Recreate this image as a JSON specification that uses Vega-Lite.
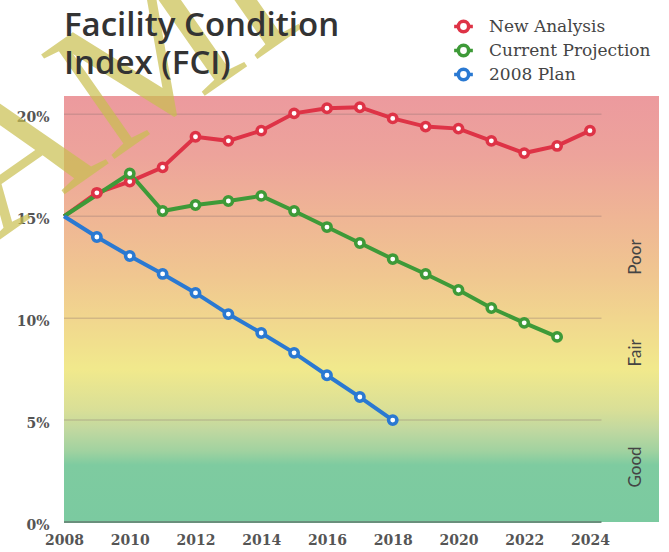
{
  "$schema": "https://vega.github.io/schema/vega-lite/v6.json",
  "width": 595,
  "height": 426,
  "autosize": "none",
  "padding": {"left": 64, "top": 96, "right": 10, "bottom": 30},
  "background": "white",
  "config": {"view": {"stroke": null}},
  "title": {
    "text": ["Facility Condition", "Index (FCI)"],
    "orient": "bottom",
    "anchor": "start",
    "frame": "group",
    "baseline": "top",
    "font": "Open Sans",
    "fontWeight": 600,
    "fontSize": 33,
    "lineHeight": 38,
    "color": "#333333",
    "offset": 0,
    "dy": -537,
    "zindex": 1
  },
  "datasets": {
    "bg": [{"x0": 2008, "x1": 2026.1, "y0": 0, "y1": 20.9}],
    "grid": [{"v": 5}, {"v": 10}, {"v": 15}, {"v": 20}],
    "zones": [
      {"zone": "Poor", "xp": 2025.4, "yp": 13.0},
      {"zone": "Fair", "xp": 2025.4, "yp": 8.3},
      {"zone": "Good", "xp": 2025.4, "yp": 2.7}
    ],
    "mark": [{"word": "SAMPLE", "xp": 2003.181, "yp": 10.63}],
    "series": [
      {"plan": "New Analysis", "year": 2008, "fci": 15.0},
      {"plan": "New Analysis", "year": 2009, "fci": 16.15},
      {"plan": "New Analysis", "year": 2010, "fci": 16.7},
      {"plan": "New Analysis", "year": 2011, "fci": 17.4},
      {"plan": "New Analysis", "year": 2012, "fci": 18.9},
      {"plan": "New Analysis", "year": 2013, "fci": 18.7},
      {"plan": "New Analysis", "year": 2014, "fci": 19.2},
      {"plan": "New Analysis", "year": 2015, "fci": 20.05},
      {"plan": "New Analysis", "year": 2016, "fci": 20.3},
      {"plan": "New Analysis", "year": 2017, "fci": 20.35},
      {"plan": "New Analysis", "year": 2018, "fci": 19.8},
      {"plan": "New Analysis", "year": 2019, "fci": 19.4},
      {"plan": "New Analysis", "year": 2020, "fci": 19.3},
      {"plan": "New Analysis", "year": 2021, "fci": 18.7},
      {"plan": "New Analysis", "year": 2022, "fci": 18.1},
      {"plan": "New Analysis", "year": 2023, "fci": 18.45},
      {"plan": "New Analysis", "year": 2024, "fci": 19.2},
      {"plan": "Current Projection", "year": 2008, "fci": 15.0},
      {"plan": "Current Projection", "year": 2010, "fci": 17.1},
      {"plan": "Current Projection", "year": 2011, "fci": 15.26},
      {"plan": "Current Projection", "year": 2012, "fci": 15.55},
      {"plan": "Current Projection", "year": 2013, "fci": 15.75},
      {"plan": "Current Projection", "year": 2014, "fci": 16.0},
      {"plan": "Current Projection", "year": 2015, "fci": 15.26},
      {"plan": "Current Projection", "year": 2016, "fci": 14.47},
      {"plan": "Current Projection", "year": 2017, "fci": 13.69},
      {"plan": "Current Projection", "year": 2018, "fci": 12.9},
      {"plan": "Current Projection", "year": 2019, "fci": 12.17},
      {"plan": "Current Projection", "year": 2020, "fci": 11.38},
      {"plan": "Current Projection", "year": 2021, "fci": 10.5},
      {"plan": "Current Projection", "year": 2022, "fci": 9.77},
      {"plan": "Current Projection", "year": 2023, "fci": 9.08},
      {"plan": "2008 Plan", "year": 2008, "fci": 15.0},
      {"plan": "2008 Plan", "year": 2009, "fci": 13.98},
      {"plan": "2008 Plan", "year": 2010, "fci": 13.05},
      {"plan": "2008 Plan", "year": 2011, "fci": 12.17},
      {"plan": "2008 Plan", "year": 2012, "fci": 11.24},
      {"plan": "2008 Plan", "year": 2013, "fci": 10.2},
      {"plan": "2008 Plan", "year": 2014, "fci": 9.27},
      {"plan": "2008 Plan", "year": 2015, "fci": 8.3},
      {"plan": "2008 Plan", "year": 2016, "fci": 7.2},
      {"plan": "2008 Plan", "year": 2017, "fci": 6.13},
      {"plan": "2008 Plan", "year": 2018, "fci": 5.0}
    ]
  },
  "layer": [
    {
      "data": {"name": "bg"},
      "mark": {
        "type": "rect",
        "fill": {
          "gradient": "linear",
          "x1": 0, "y1": 0, "x2": 0, "y2": 1,
          "stops": [
            {"offset": 0, "color": "#ec9a9e"},
            {"offset": 0.139, "color": "#eda39b"},
            {"offset": 0.282, "color": "#efb595"},
            {"offset": 0.426, "color": "#f0c790"},
            {"offset": 0.522, "color": "#f1d68e"},
            {"offset": 0.641, "color": "#f1e98c"},
            {"offset": 0.737, "color": "#d9df97"},
            {"offset": 0.785, "color": "#c0d8a0"},
            {"offset": 0.833, "color": "#a1d2a0"},
            {"offset": 0.866, "color": "#7ecba0"},
            {"offset": 1, "color": "#7bcaa0"}
          ]
        }
      },
      "encoding": {
        "x": {
          "field": "x0", "type": "quantitative",
          "scale": {"domain": [2008, 2026.1], "nice": false, "zero": false},
          "axis": {
            "values": [2008, 2010, 2012, 2014, 2016, 2018, 2020, 2022, 2024],
            "format": "d",
            "title": null,
            "grid": false,
            "ticks": false,
            "domain": false,
            "labelFlush": false,
            "labelFont": "DejaVu Serif",
            "labelFontSize": 14,
            "labelFontWeight": "bold",
            "labelColor": "#555555",
            "labelPadding": 11
          }
        },
        "x2": {"field": "x1"},
        "y": {
          "field": "y0", "type": "quantitative",
          "scale": {"domain": [0, 20.9], "nice": false, "zero": false},
          "axis": {
            "values": [0, 5, 10, 15, 20],
            "labelExpr": "datum.value + '%'",
            "title": null,
            "grid": false,
            "ticks": false,
            "domain": false,
            "labelFlush": false,
            "labelFont": "DejaVu Serif",
            "labelFontSize": 14,
            "labelFontWeight": "bold",
            "labelColor": "#555555",
            "labelPadding": 15,
            "labelOffset": 3
          }
        },
        "y2": {"field": "y1"}
      }
    },
    {
      "data": {"name": "grid"},
      "mark": {"type": "rule", "color": "#8a7070", "opacity": 0.3, "strokeWidth": 1.5},
      "encoding": {
        "y": {"field": "v", "type": "quantitative"},
        "x": {"datum": 2008},
        "x2": {"datum": 2024.35}
      }
    },
    {
      "data": {"values": [{"v": 0}]},
      "mark": {"type": "rule", "color": "#6a8f7c", "strokeWidth": 2},
      "encoding": {
        "y": {"field": "v", "type": "quantitative"},
        "x": {"datum": 2008},
        "x2": {"datum": 2024.35}
      }
    },
    {
      "data": {"name": "zones"},
      "mark": {"type": "text", "angle": 270, "font": "Lato", "fontSize": 17, "color": "#444444", "align": "center", "baseline": "middle"},
      "encoding": {
        "x": {"field": "xp", "type": "quantitative"},
        "y": {"field": "yp", "type": "quantitative"},
        "text": {"field": "zone"}
      }
    },
    {
      "data": {"name": "series"},
      "mark": {"type": "line", "strokeWidth": 4},
      "encoding": {
        "x": {"field": "year", "type": "quantitative"},
        "y": {"field": "fci", "type": "quantitative"},
        "color": {
          "field": "plan", "type": "nominal",
          "scale": {"domain": ["New Analysis", "Current Projection", "2008 Plan"], "range": ["#de3346", "#3e9a38", "#2a79d2"]},
          "legend": {
            "title": null,
            "orient": "none",
            "legendX": 388,
            "legendY": -81,
            "padding": 0,
            "symbolType": "M-1,0H-0.55M0.55,0H1M-0.55,0A0.55,0.55 0 1,0 0.55,0A0.55,0.55 0 1,0 -0.55,0Z",
            "symbolSize": 350,
            "symbolStrokeWidth": 3.5,
            "symbolFillColor": "#ffffff",
            "symbolOpacity": 1,
            "labelFont": "DejaVu Serif",
            "labelFontSize": 17,
            "labelColor": "#444444",
            "labelOffset": 14,
            "labelLimit": 400,
            "rowPadding": -4.5
          }
        },
        "order": {"field": "year"}
      }
    },
    {
      "data": {"name": "series"},
      "transform": [{"filter": "datum.year > 2008"}],
      "mark": {"type": "point", "filled": true, "fill": "#ffffff", "strokeWidth": 3.5, "size": 70, "opacity": 1},
      "encoding": {
        "x": {"field": "year", "type": "quantitative"},
        "y": {"field": "fci", "type": "quantitative"},
        "stroke": {
          "field": "plan", "type": "nominal",
          "scale": {"domain": ["New Analysis", "Current Projection", "2008 Plan"], "range": ["#de3346", "#3e9a38", "#2a79d2"]},
          "legend": null
        }
      }
    },
    {
      "data": {"name": "mark"},
      "mark": {"type": "text", "angle": 325, "font": "Liberation Serif", "fontSize": 195, "align": "left", "baseline": "alphabetic", "color": "#c9bf50", "opacity": 0.7},
      "encoding": {
        "x": {"field": "xp", "type": "quantitative"},
        "y": {"field": "yp", "type": "quantitative"},
        "text": {"field": "word"}
      }
    }
  ]
}
